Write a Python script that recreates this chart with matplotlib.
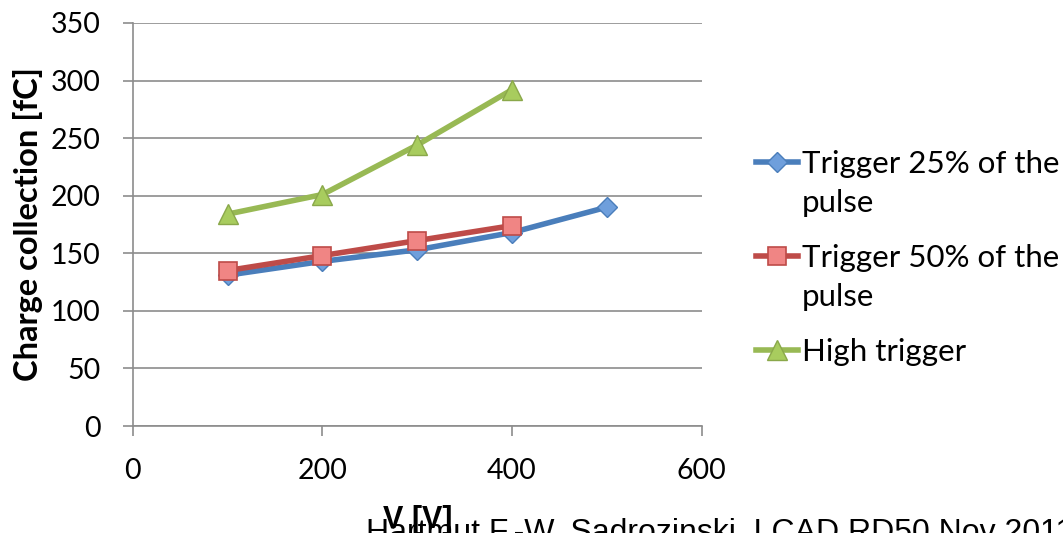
import matplotlib.pyplot as plt
from matplotlib.lines import Line2D

volts = [100, 200, 300, 400, 500]
trig25 = [131, 143, 153, 168, 190]
trig50 = [135, 148, 161, 174]
high = [184, 201, 244, 292]
labels = ['Trigger 25% of the\npulse', 'Trigger 50% of the\npulse', 'High trigger']

fig = plt.figure(figsize=(10.63, 5.33), dpi=100)
ax = fig.add_axes([0.125, 0.2007, 0.535, 0.7563])

styles = [
    dict(color='#4a7ebb', marker='D', ms=10, mfc='#6f9fdc', mec='#4a7ebb', mew=1),
    dict(color='#be4b48', marker='s', ms=13, mfc='#f08584', mec='#be4b48', mew=1.2),
    dict(color='#98b954', marker='^', ms=14, mfc='#a8cc5e', mec='#8aa84a', mew=1),
]

ax.plot(volts, trig25, lw=4, zorder=3, **styles[0])
ax.plot(volts[:4], trig50, lw=4, zorder=4, **styles[1])
ax.plot(volts[:4], high, lw=4, zorder=3, **styles[2])

ax.set_xlim(0, 600)
ax.set_ylim(0, 350)
ax.set_xticks(range(0, 601, 200))
ax.set_yticks(range(0, 351, 50))
ax.grid(axis='y', color='#8c8c8c', lw=1.2)
ax.set_axisbelow(True)
for s in ['top', 'right']:
    ax.spines[s].set_visible(False)
for s in ['left', 'bottom']:
    ax.spines[s].set_color('#8c8c8c')
    ax.spines[s].set_linewidth(1.2)
ax.tick_params(colors='#8c8c8c', length=7, width=1.2, labelcolor='black',
               labelsize=20.5)
ax.tick_params(axis='y', pad=16)
ax.tick_params(axis='x', pad=16)
for t in ax.get_xticklabels() + ax.get_yticklabels():
    t.set_family('Lato')

fig.text(28 / 1063, 1 - 224 / 533, 'Charge collection [fC]', rotation=90,
         fontsize=23.5, fontweight='bold', family='Lato', ha='center', va='center')

fig.text(418 / 1063, 1 - 528 / 533, 'V [V]', fontsize=22, fontweight='bold',
         family='Liberation Sans', ha='center', va='baseline')
fig.text(366 / 1063, 1 - 518 / 533, 'Hartmut F.-W. Sadrozinski, LCAD RD50 Nov 2011',
         fontsize=23, family='Liberation Sans', va='top')

# legend keys and labels, placed by hand in figure pixels
rows = [162, 256, 350]
for st, lab, yp in zip(styles, labels, rows):
    yf = 1 - yp / 533
    key = Line2D([756 / 1063, 777 / 1063, 798 / 1063], [yf, yf, yf], lw=4,
                 markevery=[1], transform=fig.transFigure, **st)
    fig.add_artist(key)
    for i, line in enumerate(lab.split('\n')):
        fig.text(802 / 1063, 1 - (yp + 11 + 39 * i) / 533, line, fontsize=22.5,
                 family='Lato', va='baseline')

fig.savefig('out.png', dpi=100)
